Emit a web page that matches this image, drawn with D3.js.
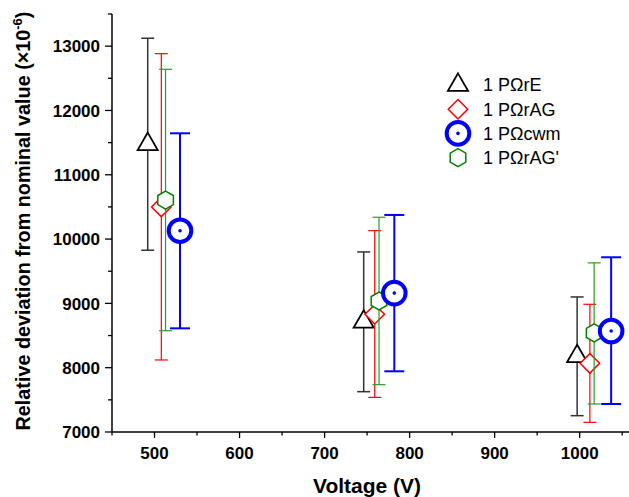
<!DOCTYPE html>
<html>
<head>
<meta charset="utf-8">
<script src="https://cdn.jsdelivr.net/npm/d3@7"></script>
<style>
  body { margin: 0; background: #fff; }
  svg { display: block; font-family: "Liberation Sans", Arial, sans-serif; }
</style>
</head>
<body>
<svg id="chart" width="629" height="497"></svg>
<script>
// Series names (legend)
var seriesNames = ["1 P\u03A9rE", "1 P\u03A9rAG", "1 P\u03A9cwm", "1 P\u03A9rAG'"];

// Voltage positions of each point (slightly offset per series)
var xRE   = [492, 746, 997];
var xRAG  = [508, 759, 1012];
var xCWM  = [530, 782, 1037];
var xRAG2 = [513, 764, 1017];

// Relative deviation values (x10^-6)
var yRE   = [11475, 8713, 8177];
var yRAG  = [10500, 8830, 8068];
var yCWM  = [10130, 9160, 8570];
var yRAG2 = [10607, 9037, 8540];

// Error bar limits
var loRE   = [9826, 7627, 7254];
var hiRE   = [13123, 9800, 9100];
var loRAG  = [8120, 7538, 7150];
var hiRAG  = [12883, 10131, 8986];
var loCWM  = [8612, 7944, 7435];
var hiCWM  = [11645, 10375, 9717];
var loRAG2 = [8575, 7736, 7435];
var hiRAG2 = [12640, 10339, 9630];

// Tick labels
var xTicks = [500, 600, 700, 800, 900, 1000];
var yTicks = [7000, 8000, 9000, 10000, 11000, 12000, 13000];

var svg = d3.select("#chart");

var x = d3.scaleLinear().domain([450, 1058]).range([112, 629]);
var y = d3.scaleLinear().domain([7000, 13500]).range([432, 14]);

// Hexagon path, pointy top
function hexPath(r) {
  var pts = d3.range(6).map(function(i) {
    var a = Math.PI / 3 * i - Math.PI / 2;
    return [r * Math.cos(a), r * Math.sin(a)];
  });
  return "M" + pts.join("L") + "Z";
}

var series = [
  { name: seriesNames[0], xs: xRE, ys: yRE, lo: loRE, hi: hiRE, colour: "#000", barColour: "#333", bw: 1.5, cap: 6.5, marker: "tri" },
  { name: seriesNames[1], xs: xRAG, ys: yRAG, lo: loRAG, hi: hiRAG, colour: "#ff0000", barColour: "#ff0000", bw: 1.2, cap: 6.5, marker: "dia" },
  { name: seriesNames[3], xs: xRAG2, ys: yRAG2, lo: loRAG2, hi: hiRAG2, colour: "#008000", barColour: "#2a9a2a", bw: 1.2, cap: 6.5, marker: "hex" },
  { name: seriesNames[2], xs: xCWM, ys: yCWM, lo: loCWM, hi: hiCWM, colour: "#0000ff", barColour: "#0000ff", bw: 2, cap: 10, marker: "circ" }
];

function drawMarker(g, type, colour) {
  if (type == "tri") {
    g.append("path")
      .attr("d", d3.symbol().type(d3.symbolTriangle).size(175)())
      .attr("fill", "#fff").attr("stroke", colour).attr("stroke-width", 1.8);
  } else if (type == "dia") {
    g.append("path")
      .attr("d", d3.symbol().type(d3.symbolSquare).size(190)())
      .attr("transform", "rotate(45)")
      .attr("fill", "#fff").attr("stroke", colour).attr("stroke-width", 1.5);
  } else if (type == "hex") {
    g.append("path")
      .attr("d", hexPath(9))
      .attr("fill", "#fff").attr("stroke", colour).attr("stroke-width", 1.5);
  } else {
    g.append("circle").attr("r", 11.3)
      .attr("fill", "#fff").attr("stroke", colour).attr("stroke-width", 4);
    g.append("circle").attr("r", 1.8).attr("fill", colour);
  }
}

// Axes
var xAxis = svg.append("g").attr("transform", "translate(0,432)");
xAxis.append("line").attr("x1", 112).attr("x2", 629).attr("stroke", "#000").attr("stroke-width", 1.5);
d3.range(450, 1060, 50).forEach(function(v) {
  var major = v % 100 == 0;
  xAxis.append("line").attr("x1", x(v)).attr("x2", x(v))
    .attr("y1", 0).attr("y2", major ? 6 : 3.5)
    .attr("stroke", "#000").attr("stroke-width", 1.3);
});
xAxis.selectAll("text.tick").data(xTicks).enter().append("text")
  .attr("x", function(d) { return x(d); })
  .attr("y", 27)
  .attr("text-anchor", "middle")
  .attr("font-size", 17).attr("font-weight", "bold")
  .text(function(d) { return d; });

var yAxis = svg.append("g").attr("transform", "translate(112,0)");
yAxis.append("line").attr("y1", 14).attr("y2", 432).attr("stroke", "#000").attr("stroke-width", 1.5);
d3.range(7000, 13501, 500).forEach(function(v) {
  var major = v % 1000 == 0;
  yAxis.append("line").attr("y1", y(v)).attr("y2", y(v))
    .attr("x1", 0).attr("x2", major ? -7 : -4)
    .attr("stroke", "#000").attr("stroke-width", 1.3);
});
yAxis.selectAll("text.tick").data(yTicks).enter().append("text")
  .attr("x", -12)
  .attr("y", function(d) { return y(d); })
  .attr("dy", "0.36em")
  .attr("text-anchor", "end")
  .attr("font-size", 17).attr("font-weight", "bold")
  .text(function(d) { return d; });

// Axis titles
svg.append("text")
  .attr("x", 367).attr("y", 493)
  .attr("text-anchor", "middle")
  .attr("font-size", 21).attr("font-weight", "bold")
  .text("Voltage (V)");

var yt = svg.append("text")
  .attr("transform", "translate(30,221) rotate(-90)")
  .attr("text-anchor", "middle")
  .attr("font-size", 19.8).attr("font-weight", "bold");
yt.append("tspan").text("Relative deviation from nominal value (\u00D710");
yt.append("tspan").attr("font-size", 13).attr("dy", -8).text("-6");
yt.append("tspan").attr("dy", 8).text(")");

// Error bars and markers
series.forEach(function(s) {
  var g = svg.append("g");
  s.xs.forEach(function(xv, i) {
    var cx = x(xv);
    g.append("line").attr("x1", cx).attr("x2", cx)
      .attr("y1", y(s.lo[i])).attr("y2", y(s.hi[i]))
      .attr("stroke", s.barColour).attr("stroke-width", s.bw);
    [s.lo[i], s.hi[i]].forEach(function(v) {
      g.append("line").attr("x1", cx - s.cap).attr("x2", cx + s.cap)
        .attr("y1", y(v)).attr("y2", y(v))
        .attr("stroke", s.barColour).attr("stroke-width", s.bw);
    });
    var m = g.append("g").attr("transform", "translate(" + cx + "," + y(s.ys[i]) + ")");
    drawMarker(m, s.marker, s.colour);
  });
});

// Legend
var legendOrder = [series[0], series[1], series[3], series[2]];
var legend = svg.append("g").attr("transform", "translate(458,85)");
legendOrder.forEach(function(s, i) {
  var row = legend.append("g").attr("transform", "translate(0," + (i * 24.2) + ")");
  drawMarker(row, s.marker, s.colour);
  row.append("text").attr("x", 25).attr("dy", "0.36em")
    .attr("font-size", 18)
    .text(s.name);
});
</script>
</body>
</html>
